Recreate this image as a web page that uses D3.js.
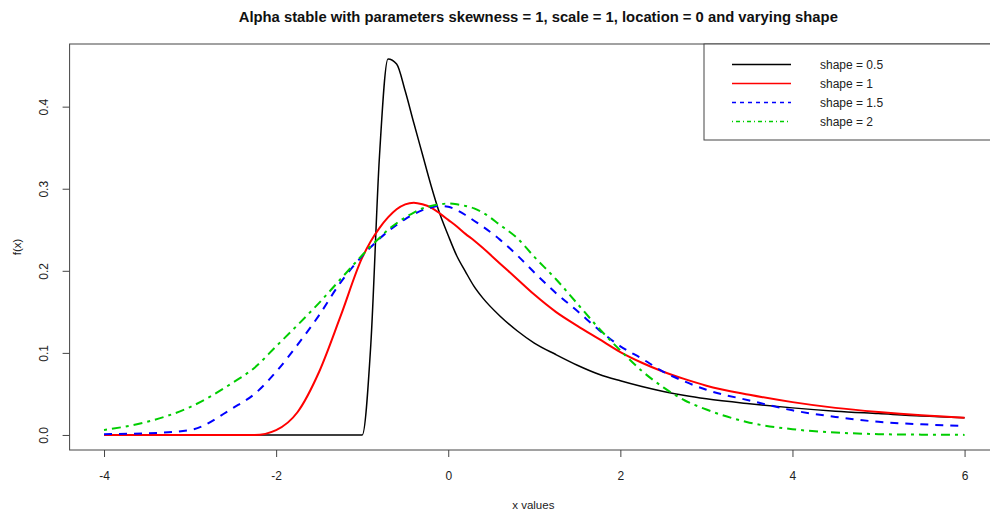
<!DOCTYPE html>
<html>
<head>
<meta charset="utf-8">
<script src="https://cdn.jsdelivr.net/npm/d3@7"></script>
<style>
  html, body { margin: 0; padding: 0; background: #fff; }
  svg { display: block; font-family: "Liberation Sans", Arial, sans-serif; }
</style>
</head>
<body>
<svg id="chart" width="990" height="514"></svg>
<script>
// ---- data ----
const xValues = [-4, -3.5, -3, -2.5, -2.25, -2, -1.75, -1.5, -1.25, -1, -0.9, -0.8, -0.7, -0.6, -0.5, -0.4, -0.3, -0.2, -0.1, 0, 0.1, 0.2, 0.3, 0.4, 0.6, 0.8, 1, 1.25, 1.5, 1.75, 2, 2.25, 2.5, 2.75, 3, 3.5, 4, 4.5, 5, 5.5, 6];

const shape05 = [0, 0, 0, 0, 0, 0, 0, 0, 0, 0, 0.11, 0.338, 0.458, 0.452, 0.419, 0.380, 0.342, 0.304, 0.270, 0.243, 0.218, 0.199, 0.181, 0.167, 0.145, 0.127, 0.112, 0.098, 0.085, 0.074, 0.066, 0.059, 0.053, 0.048, 0.044, 0.038, 0.033, 0.029, 0.026, 0.023, 0.021];

const shape1 = [0, 0, 0, 0, 0, 0.006, 0.028, 0.077, 0.145, 0.216, 0.236, 0.252, 0.265, 0.275, 0.281, 0.283, 0.281, 0.277, 0.270, 0.262, 0.254, 0.245, 0.237, 0.228, 0.209, 0.190, 0.171, 0.150, 0.133, 0.117, 0.101, 0.088, 0.077, 0.068, 0.060, 0.049, 0.040, 0.033, 0.028, 0.024, 0.021];

const shape15 = [0.001, 0.002, 0.006, 0.033, 0.050, 0.077, 0.110, 0.146, 0.186, 0.218, 0.229, 0.239, 0.248, 0.256, 0.263, 0.269, 0.274, 0.277, 0.279, 0.278, 0.274, 0.268, 0.261, 0.254, 0.238, 0.219, 0.198, 0.173, 0.151, 0.128, 0.108, 0.093, 0.077, 0.065, 0.055, 0.042, 0.030, 0.022, 0.016, 0.013, 0.011];

const shape2 = [0.006, 0.016, 0.034, 0.064, 0.082, 0.108, 0.134, 0.161, 0.190, 0.219, 0.230, 0.240, 0.250, 0.258, 0.265, 0.271, 0.276, 0.279, 0.281, 0.282, 0.281, 0.279, 0.276, 0.271, 0.256, 0.240, 0.217, 0.190, 0.160, 0.130, 0.103, 0.078, 0.058, 0.042, 0.031, 0.015, 0.007, 0.003, 0.001, 0.0004, 0.0001];

const seriesNames = ["shape = 0.5", "shape = 1", "shape = 1.5", "shape = 2"];
const xTicks = [-4, -2, 0, 2, 4, 6];
const yTicks = [0.0, 0.1, 0.2, 0.3, 0.4];

const titleText = "Alpha stable with parameters skewness = 1, scale = 1, location = 0 and varying shape";
const xLabel = "x values";
const yLabel = "f(x)";

// ---- styles ----
const styles = [
  { color: "#000000", width: 1.5, dash: null,        legDash: null },
  { color: "#ff0000", width: 2,   dash: null,        legDash: null },
  { color: "#0000ff", width: 2,   dash: "8,7",       legDash: "4,4" },
  { color: "#00cd00", width: 2,   dash: "3,5,9,5",   legDash: "1,3,4,3" }
];

// ---- layout ----
const svg = d3.select("#chart");
const plot = { left: 69.6, right: 999, top: 44, bottom: 450 };

const xMin = d3.min(xValues), xMax = d3.max(xValues);
const xPad = (xMax - xMin) * 0.04;
const allY = [].concat(shape05, shape1, shape15, shape2);
const yMin = d3.min(allY), yMax = d3.max(allY);
const yPad = (yMax - yMin) * 0.04;

const x = d3.scaleLinear().domain([xMin - xPad, xMax + xPad]).range([plot.left, plot.right]);
const y = d3.scaleLinear().domain([yMin - yPad, yMax + yPad]).range([plot.bottom, plot.top]);

// clip
svg.append("defs").append("clipPath").attr("id", "clip")
  .append("rect").attr("x", plot.left).attr("y", plot.top)
  .attr("width", plot.right - plot.left).attr("height", plot.bottom - plot.top);

// title
svg.append("text")
  .attr("x", (plot.left + plot.right) / 2 + 4)
  .attr("y", 22)
  .attr("text-anchor", "middle")
  .attr("font-size", "14.8px")
  .attr("font-weight", "bold")
  .attr("fill", "#111")
  .text(titleText);

// curves
const series = [shape05, shape1, shape15, shape2];
const line = d3.line()
  .x(d => x(d[0]))
  .y(d => y(d[1]))
  .curve(d3.curveMonotoneX);

const g = svg.append("g").attr("clip-path", "url(#clip)");
series.forEach((vals, i) => {
  const pts = xValues.map((xv, j) => [xv, vals[j]]);
  const p = g.append("path")
    .datum(pts)
    .attr("fill", "none")
    .attr("stroke", styles[i].color)
    .attr("stroke-width", styles[i].width)
    .attr("stroke-linejoin", "round")
    .attr("d", line);
  if (styles[i].dash) p.attr("stroke-dasharray", styles[i].dash);
});

// box
svg.append("rect")
  .attr("x", plot.left).attr("y", plot.top)
  .attr("width", plot.right - plot.left).attr("height", plot.bottom - plot.top)
  .attr("fill", "none").attr("stroke", "#444").attr("stroke-width", 1);

// x axis
const xAxis = d3.axisBottom(x).tickValues(xTicks).tickSize(7).tickPadding(14)
  .tickFormat(d => String(d));
const gx = svg.append("g").attr("transform", `translate(0,${plot.bottom})`).call(xAxis);
gx.select(".domain").remove();
gx.selectAll("line").attr("stroke", "#444");
gx.selectAll("text").attr("font-size", "12px").attr("fill", "#222")
  .attr("font-family", "Liberation Sans, Arial, sans-serif");

// y axis
const yAxis = d3.axisLeft(y).tickValues(yTicks).tickSize(7).tickPadding(0)
  .tickFormat(d => d.toFixed(1));
const gy = svg.append("g").attr("transform", `translate(${plot.left},0)`).call(yAxis);
gy.select(".domain").remove();
gy.selectAll("line").attr("stroke", "#444");
gy.selectAll("text")
  .attr("font-size", "12px").attr("fill", "#222")
  .attr("font-family", "Liberation Sans, Arial, sans-serif")
  .attr("text-anchor", "middle")
  .attr("x", 0).attr("dy", null)
  .attr("transform", "translate(-26,0) rotate(-90)")
  .attr("y", 0)
  .attr("dominant-baseline", "central");

// axis labels
svg.append("text")
  .attr("x", (plot.left + plot.right) / 2 - 1)
  .attr("y", 509)
  .attr("text-anchor", "middle")
  .attr("font-size", "11.5px")
  .attr("fill", "#222")
  .text(xLabel);

svg.append("text")
  .attr("transform", `translate(21,${(plot.top + plot.bottom) / 2}) rotate(-90)`)
  .attr("text-anchor", "middle")
  .attr("font-size", "11.5px")
  .attr("fill", "#222")
  .text(yLabel);

// legend
const leg = { left: 704, top: 44, bottom: 140 };
svg.append("rect")
  .attr("x", leg.left).attr("y", leg.top)
  .attr("width", plot.right - leg.left).attr("height", leg.bottom - leg.top)
  .attr("fill", "#fff").attr("stroke", "#444").attr("stroke-width", 1);

const legRowY = [64.5, 83.5, 102.5, 121.5];
seriesNames.forEach((name, i) => {
  const l = svg.append("line")
    .attr("x1", 732).attr("x2", 791)
    .attr("y1", legRowY[i]).attr("y2", legRowY[i])
    .attr("stroke", styles[i].color).attr("stroke-width", 1.3);
  if (styles[i].legDash) l.attr("stroke-dasharray", styles[i].legDash);
  svg.append("text")
    .attr("x", 820).attr("y", legRowY[i])
    .attr("dominant-baseline", "central")
    .attr("font-size", "12px").attr("fill", "#222")
    .text(name);
});
</script>
</body>
</html>
